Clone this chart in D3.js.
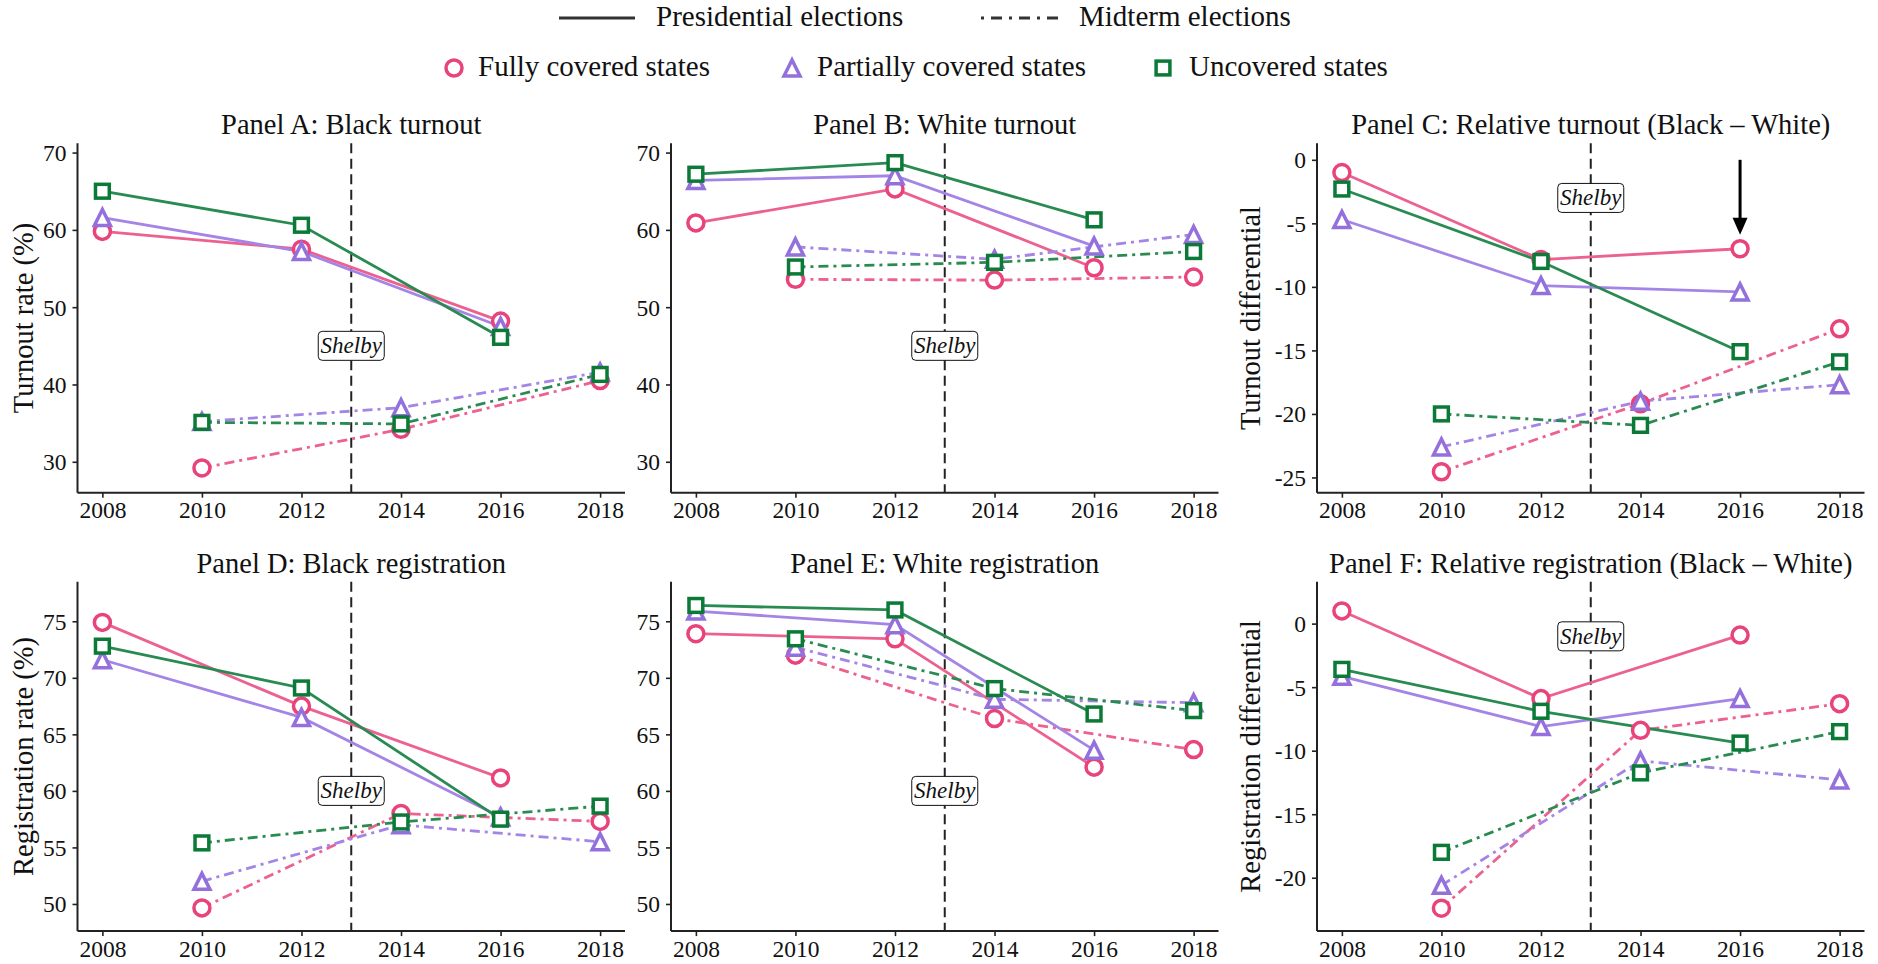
<!DOCTYPE html>
<html>
<head>
<meta charset="utf-8">
<script src="https://cdn.jsdelivr.net/npm/d3@7"></script>
<style>
  html, body { margin: 0; padding: 0; background: #fff; }
  svg { display: block; font-family: "Liberation Serif", "DejaVu Serif", serif; }
</style>
</head>
<body>
<svg id="chart" width="1878" height="964"></svg>
<script>
// ---------------- DATA ----------------
const presYears = [2008, 2012, 2016];
const midYears = [2010, 2014, 2018];
const xTicks = [2008, 2010, 2012, 2014, 2016, 2018];
const groups = ["Fully covered states", "Partially covered states", "Uncovered states"];
const electionTypes = ["Presidential elections", "Midterm elections"];
const shelbyYear = 2013;

// order of rows in each array: fully, partially, uncovered
// Panel A: Black turnout
const blackTurnoutPres = [[59.8, 57.5, 48.2], [61.6, 57.2, 47.5], [65.0, 60.6, 46.1]];
const blackTurnoutMid  = [[29.2, 34.2, 40.5], [35.2, 37.0, 41.6], [35.1, 34.9, 41.3]];
// Panel B: White turnout
const whiteTurnoutPres = [[60.9, 65.3, 55.1], [66.4, 67.0, 57.9], [67.2, 68.7, 61.3]];
const whiteTurnoutMid  = [[53.6, 53.5, 53.9], [57.8, 56.2, 59.4], [55.2, 55.8, 57.2]];
// Panel C: Relative turnout
const relTurnoutPres = [[-1.0, -7.85, -7.0], [-4.7, -9.9, -10.4], [-2.3, -8.0, -15.1]];
const relTurnoutMid  = [[-24.55, -19.2, -13.3], [-22.6, -19.0, -17.7], [-20.0, -20.9, -15.9]];
// Panel D: Black registration
const blackRegPres = [[74.9, 67.5, 61.15], [71.6, 66.5, 57.7], [72.8, 69.1, 57.5]];
const blackRegMid  = [[49.65, 58.0, 57.3], [52.0, 57.0, 55.5], [55.4, 57.25, 58.65]];
// Panel E: White registration
const whiteRegPres = [[73.9, 73.45, 62.1], [75.9, 74.7, 63.6], [76.4, 76.0, 66.8]];
const whiteRegMid  = [[72.0, 66.4, 63.65], [72.7, 68.1, 67.8], [73.45, 69.05, 67.1]];
// Panel F: Relative registration
const relRegPres = [[1.0, -5.9, -0.9], [-4.15, -8.1, -5.9], [-3.6, -6.9, -9.4]];
const relRegMid  = [[-22.4, -8.4, -6.3], [-20.6, -10.8, -12.3], [-18.0, -11.75, -8.5]];

const turnoutTicks = [30, 40, 50, 60, 70];
const relTurnoutTicks = [0, -5, -10, -15, -20, -25];
const regTicks = [50, 55, 60, 65, 70, 75];
const relRegTicks = [0, -5, -10, -15, -20];

const titles = ["Panel A: Black turnout", "Panel B: White turnout", "Panel C: Relative turnout (Black \u2013 White)",
                "Panel D: Black registration", "Panel E: White registration", "Panel F: Relative registration (Black \u2013 White)"];
const yLabels = ["Turnout rate (%)", "", "Turnout differential", "Registration rate (%)", "", "Registration differential"];
const shelbyLabelY = [45, 45, -3, 60, 60, -1];
const arrowPanelC = { year: 2016, from: 0, to: -5.9 };

// ---------------- STYLE / LAYOUT ----------------
const markerColors = ["#e8437a", "#9370db", "#0a7a36"];
const lineColors = ["#ec6190", "#a485e6", "#2a8b52"];
const shapes = ["circle", "triangle", "square"];

const colLeft = [77.5, 671, 1317];
const panelW = 547.5;
const rowTop = [143.3, 581.7];
const panelH = 349.4;

const panels = [
  { pres: blackTurnoutPres, mid: blackTurnoutMid, domain: [26.0, 71.2], ticks: turnoutTicks, r: 0, c: 0 },
  { pres: whiteTurnoutPres, mid: whiteTurnoutMid, domain: [26.0, 71.2], ticks: turnoutTicks, r: 0, c: 1 },
  { pres: relTurnoutPres, mid: relTurnoutMid, domain: [-26.2, 1.3], ticks: relTurnoutTicks, r: 0, c: 2 },
  { pres: blackRegPres, mid: blackRegMid, domain: [47.6, 78.5], ticks: regTicks, r: 1, c: 0 },
  { pres: whiteRegPres, mid: whiteRegMid, domain: [47.6, 78.5], ticks: regTicks, r: 1, c: 1 },
  { pres: relRegPres, mid: relRegMid, domain: [-24.2, 3.3], ticks: relRegTicks, r: 1, c: 2 }
];

const svg = d3.select("#chart");

function drawMarker(g, shape, x, y, color, s) {
  const sw = 3.5;
  if (shape === "circle") {
    g.append("circle").attr("cx", x).attr("cy", y).attr("r", 8 * s)
      .attr("fill", "#fff").attr("stroke", color).attr("stroke-width", sw);
  } else if (shape === "triangle") {
    const h = 8 * s;
    g.append("path").attr("d", `M${x},${y - h}L${x - h},${y + h}L${x + h},${y + h}Z`)
      .attr("fill", "#fff").attr("stroke", color).attr("stroke-width", sw)
      .attr("stroke-linejoin", "miter");
  } else {
    const h = 6.9 * s;
    g.append("rect").attr("x", x - h).attr("y", y - h).attr("width", 2 * h).attr("height", 2 * h)
      .attr("fill", "#fff").attr("stroke", color).attr("stroke-width", sw);
  }
}

panels.forEach((p, i) => {
  const left = colLeft[p.c], top = rowTop[p.r];
  const x = d3.scaleLinear().domain([2007.5, 2018.5]).range([left, left + panelW]);
  const y = d3.scaleLinear().domain(p.domain).range([top + panelH, top]);
  const g = svg.append("g");

  // axes
  const xAxis = d3.axisBottom(x).tickValues(xTicks).tickFormat(d3.format("d")).tickSize(5).tickPadding(6);
  const yAxis = d3.axisLeft(y).tickValues(p.ticks).tickFormat(d => String(d)).tickSize(5).tickPadding(6);
  const gx = g.append("g").attr("transform", `translate(0,${top + panelH})`).call(xAxis);
  const gy = g.append("g").attr("transform", `translate(${left},0)`).call(yAxis);
  [gx, gy].forEach(a => {
    a.select(".domain").attr("stroke", "#222").attr("stroke-width", 2);
    a.selectAll(".tick line").attr("stroke", "#222").attr("stroke-width", 1.6);
    a.selectAll(".tick text").attr("fill", "#111").style("font-size", "23.5px")
      .style("font-family", "Liberation Serif, serif");
  });
  gx.selectAll(".tick text").attr("dy", "0.62em");
  gy.selectAll(".tick text").attr("dy", "0.34em");
  gx.select(".domain").attr("d", `M${left},0H${left + panelW}`);
  gy.select(".domain").attr("d", `M0,${top + panelH}V${top}`);

  // Shelby line
  g.append("line").attr("x1", x(shelbyYear)).attr("x2", x(shelbyYear))
    .attr("y1", top).attr("y2", top + panelH)
    .attr("stroke", "#222").attr("stroke-width", 2).attr("stroke-dasharray", "10,5.5");

  // lines
  const line = d3.line().x(d => x(d[0])).y(d => y(d[1]));
  for (let k = 0; k < 3; k++) {
    g.append("path").datum(presYears.map((yr, j) => [yr, p.pres[k][j]]))
      .attr("d", line).attr("fill", "none").attr("stroke", lineColors[k]).attr("stroke-width", 2.8);
    g.append("path").datum(midYears.map((yr, j) => [yr, p.mid[k][j]]))
      .attr("d", line).attr("fill", "none").attr("stroke", lineColors[k]).attr("stroke-width", 2.8)
      .attr("stroke-dasharray", "10,5,3,5");
  }
  // markers
  for (let k = 0; k < 3; k++) {
    presYears.forEach((yr, j) => drawMarker(g, shapes[k], x(yr), y(p.pres[k][j]), markerColors[k], 1));
    midYears.forEach((yr, j) => drawMarker(g, shapes[k], x(yr), y(p.mid[k][j]), markerColors[k], 1));
  }

  // Shelby label
  const sx = x(shelbyYear), sy = y(shelbyLabelY[i]);
  g.append("rect").attr("x", sx - 33).attr("y", sy - 14.5).attr("width", 66).attr("height", 29)
    .attr("rx", 4).attr("fill", "#fff").attr("stroke", "#111").attr("stroke-width", 1);
  g.append("text").attr("x", sx).attr("y", sy + 7.5).attr("text-anchor", "middle")
    .style("font-style", "italic").style("font-size", "23px").attr("fill", "#111").text("Shelby");

  // arrow
  if (i === 2) {
    const ax = x(arrowPanelC.year), ay0 = y(arrowPanelC.from), ay1 = y(arrowPanelC.to);
    g.append("line").attr("x1", ax).attr("x2", ax).attr("y1", ay0).attr("y2", ay1 - 14)
      .attr("stroke", "#000").attr("stroke-width", 3);
    g.append("path").attr("d", `M${ax - 7.5},${ay1 - 17}L${ax + 7.5},${ay1 - 17}L${ax},${ay1}Z`).attr("fill", "#000");
  }

  // title
  g.append("text").attr("x", left + panelW / 2).attr("y", p.r === 0 ? 134 : 572.5)
    .attr("text-anchor", "middle").style("font-size", "28.5px").attr("fill", "#111").text(titles[i]);

  // y label
  if (yLabels[i]) {
    const lx = p.c === 0 ? 33 : 1260;
    const ly = top + panelH / 2;
    g.append("text").attr("transform", `translate(${lx},${ly}) rotate(-90)`)
      .attr("text-anchor", "middle").style("font-size", "28.5px").attr("fill", "#111").text(yLabels[i]);
  }
});

// ---------------- LEGEND ----------------
const leg = svg.append("g");
leg.append("line").attr("x1", 559).attr("x2", 635).attr("y1", 18).attr("y2", 18)
  .attr("stroke", "#333").attr("stroke-width", 3);
leg.append("text").attr("x", 656).attr("y", 26).style("font-size", "29px").attr("fill", "#111").text(electionTypes[0]);
leg.append("line").attr("x1", 981).attr("x2", 1059).attr("y1", 18).attr("y2", 18)
  .attr("stroke", "#333").attr("stroke-width", 3).attr("stroke-dasharray", "3,7,11,7");
leg.append("text").attr("x", 1079).attr("y", 26).style("font-size", "29px").attr("fill", "#111").text(electionTypes[1]);

const legMarkX = [454, 792, 1163];
const legTextX = [478, 817, 1189];
groups.forEach((name, k) => {
  drawMarker(leg, shapes[k], legMarkX[k], 68, markerColors[k], 1);
  leg.append("text").attr("x", legTextX[k]).attr("y", 76).style("font-size", "29px").attr("fill", "#111").text(name);
});
</script>
</body>
</html>
